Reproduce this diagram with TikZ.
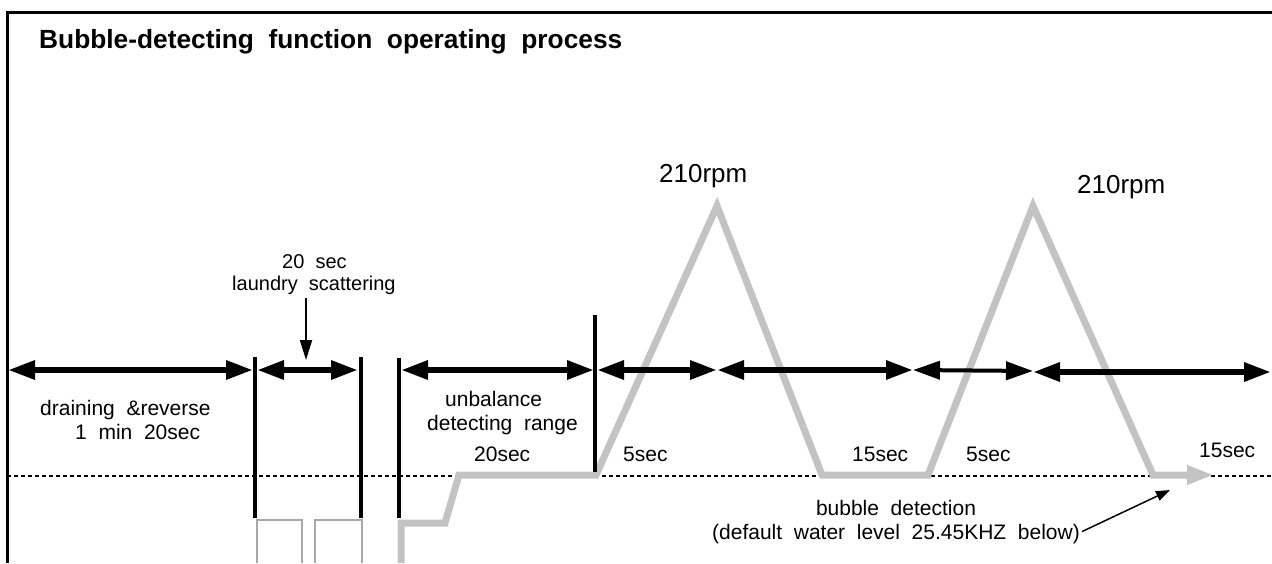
\documentclass[tikz,border=0pt]{standalone}
\usepackage{fontspec}
\setmainfont{Liberation Sans}
\usetikzlibrary{arrows.meta}
\definecolor{curve}{HTML}{C3C3C3}
\definecolor{thin}{HTML}{A8A8A8}
\newcommand\widesp{\spaceskip 0.556em\relax}
\begin{document}
\begin{tikzpicture}[x=1pt,y=-1pt,
  dim/.style={line width=6pt,{Triangle[length=27pt,width=18pt]}-{Triangle[length=27pt,width=18pt]}},
  dimthin/.style={line width=4pt,{Triangle[length=27pt,width=18pt]}-{Triangle[length=27pt,width=18pt]}},
  bar/.style={line width=4pt},
  lbl/.style={inner sep=0pt,font=\fontsize{21}{25}\selectfont\widesp},
  lblsm/.style={inner sep=0pt,font=\fontsize{20}{24}\selectfont\widesp},
  rpm/.style={inner sep=0pt,font=\fontsize{26}{30}\selectfont},
  speed/.style={line width=7pt,color=curve},
  stepbox/.style={line width=2.5pt,color=thin},
]
\useasboundingbox (0,0) rectangle (1272,563);
% frame
\draw[line width=3pt] (7,563) -- (7,12) -- (1272,12);
% title
\node[inner sep=0pt,anchor=base west,font=\fontsize{26.3}{31}\selectfont\bfseries\widesp] (title) at (39,48) {Bubble-detecting function operating process};
% dashed reference line
\coordinate (dl) at (7,476);
\coordinate (dr) at (1272,476);
\draw[line width=1.5pt,dash pattern=on 4pt off 3pt] (dl) -- (dr);
% gray step boxes
\draw[stepbox] (257,563) -- (257,520) -- (302,520) -- (302,563);
\draw[stepbox] (315,563) -- (315,520) -- (362,520) -- (362,563);
% speed curve
\coordinate (s0) at (401,563);
\coordinate (s1) at (401,523);
\coordinate (s2) at (445,523);
\coordinate (s3) at (459,475);
\coordinate (s4) at (596,475);
\coordinate (p1) at (717,206);
\coordinate (s5) at (822,475);
\coordinate (s6) at (928,475);
\coordinate (p2) at (1033,206);
\coordinate (s7) at (1153,475);
\coordinate (s8) at (1214,475);
\draw[speed,line join=miter] (s0) -- (s1) -- (s2) -- (s3) -- (s4) -- (p1) -- (s5) -- (s6) -- (p2) -- (s7) -- (1190,475);
\draw[speed,-{Triangle[length=27pt,width=18pt]}] (1185,475) -- (s8);
% vertical bars
\draw[bar] (255,357) -- (255,518);
\draw[bar] (361,357) -- (361,518);
\draw[bar] (399,358) -- (399,518);
\draw[bar] (595,315) -- (595,472);
% dimension arrows
\coordinate (a0) at (8,370);
\coordinate (a1) at (253,370);
\coordinate (a2) at (257,370);
\coordinate (a3) at (358,370);
\coordinate (a4) at (401,370);
\coordinate (a5) at (594,370);
\coordinate (a6) at (597,370);
\coordinate (a7) at (717,370);
\coordinate (a8) at (913,370);
\coordinate (a9) at (1033,371);
\coordinate (a10) at (1271,372);
\coordinate (a9b) at (1033,372);
\draw[dim] (a0) -- (a1);
\draw[dim] (a2) -- (a3);
\draw[dim] (a4) -- (a5);
\draw[dim] (a6) -- (a7);
\draw[dim] (a7) -- (a8);
\draw[dimthin] (a8) -- (a9);
\draw[dim] (a9b) -- (a10);
% labels
\node[lblsm,anchor=base west] (l20) at (282,268) {20 sec};
\node[lblsm,anchor=base west] (lls) at (232,290) {laundry scattering};
\coordinate (dn) at (306,360);
\draw[line width=2pt,-{Triangle[length=20pt,width=12pt]}] (306,298) -- (dn);
\node[lbl,anchor=base west] (ldr) at (40,415) {draining \&reverse};
\node[lbl,anchor=base west] (lmin) at (75,439) {1 min 20sec};
\node[lbl,anchor=base west] (lub) at (445,406) {unbalance};
\node[lbl,anchor=base west] (ldet) at (427,430) {detecting range};
\node[lbl,anchor=base west] (l20s) at (474,461) {20sec};
\node[lbl,anchor=base west] (l5a) at (623,461) {5sec};
\node[lbl,anchor=base west] (l15a) at (852,461) {15sec};
\node[lbl,anchor=base west] (l5b) at (966,461) {5sec};
\node[lbl,anchor=base west] (l15b) at (1199,457) {15sec};
\node[rpm,anchor=base west] (r1) at (659,182) {210rpm};
\node[rpm,anchor=base west] (r2) at (1077,193) {210rpm};
\node[lbl,anchor=base] (bd1) at (896,515) {bubble detection};
\node[lbl,anchor=base] (bd2) at (896,539) {(default water level 25.45KHZ below)};
\coordinate (ptr) at (1170,490);
\draw[line width=1.5pt,-{Triangle[length=14pt,width=10pt]}] (bd2.east) ++(2,-2) -- (ptr);
\end{tikzpicture}
\end{document}
